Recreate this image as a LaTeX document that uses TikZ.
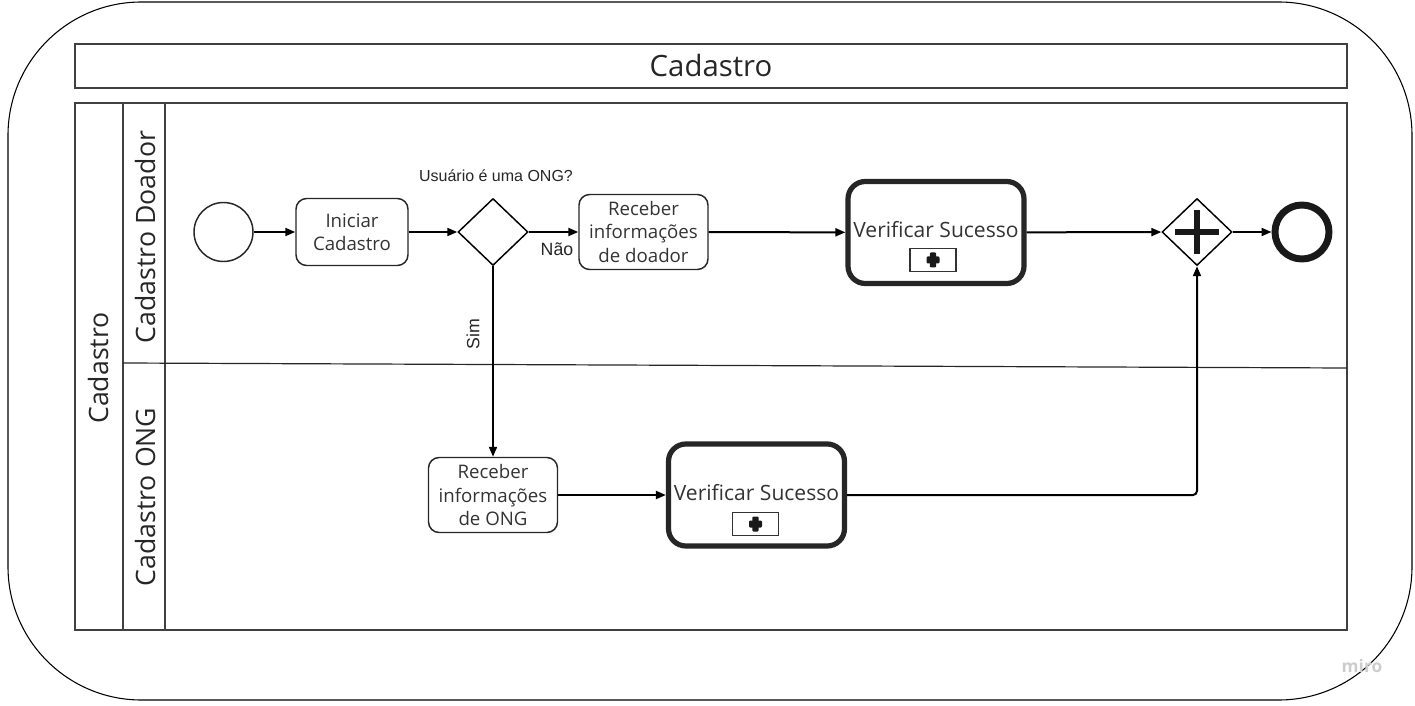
\documentclass[tikz,border=0pt]{standalone}
\usepackage{fontspec}
\setmainfont{Open Sans}
\newfontfamily\arialf{Liberation Sans}
\usetikzlibrary{shapes.geometric,arrows.meta}
\begin{document}
\begin{tikzpicture}[x=0.75pt,y=-0.75pt,
  frame/.style={draw=black!75, line width=1.1pt},
  lanelabel/.style={rotate=90, font=\fontsize{20}{24}\selectfont, text=black!85},
  task/.style={draw=black!85, rounded corners=8pt, line width=1.1pt, align=center, inner sep=0pt,
    minimum width=129*0.75pt, minimum height=75*0.75pt, font=\fontsize{14}{17.6}\selectfont, text=black!80},
  subproc/.style={draw=black!85, rounded corners=13pt, line width=3.9pt, inner sep=0pt,
    minimum width=176*0.75pt, minimum height=102*0.75pt},
  subtext/.style={font=\fontsize{15.8}{18}\selectfont, text=black!80, inner sep=0pt},
  marker/.style={draw=black!80, line width=0.9pt, inner sep=0pt, minimum width=46*0.75pt, minimum height=23*0.75pt},
  gate/.style={draw=black, diamond, line width=1.1pt, inner sep=0pt, minimum width=70*0.75pt, minimum height=67*0.75pt},
  flow/.style={line width=1.5pt, -{Triangle[length=7.5pt,width=6pt]}},
  cond/.style={font=\arialf\fontsize{12}{14}\selectfont, text=black!85},
  condbig/.style={font=\arialf\fontsize{13.3}{15}\selectfont, text=black!85},
]
\useasboundingbox (0,0) rectangle (1415,706);
% outer frame
\draw[line width=0.8pt, rounded corners=100pt] (8,2) rectangle (1412,700);
% title band
\node[frame, minimum width=1272*0.75pt, minimum height=44*0.75pt, inner sep=0pt,
  font=\fontsize{22}{26}\selectfont, text=black!85] (title) at (711,66) {Cadastro};
% pool
\draw[frame] (75,103) rectangle (1347,630);
\draw[frame] (123,103) -- (123,630);
\draw[frame] (165,103) -- (165,630);
\draw[line width=0.9pt, draw=black!85] (123,363) -- (1347,368);
\node[lanelabel] (pool) at (98,368) {Cadastro};
\node[lanelabel] (lane1) at (145,237) {Cadastro Doador};
\node[lanelabel] (lane2) at (145,497) {Cadastro ONG};
% lane 1
\node[circle, draw=black!85, line width=1.1pt, minimum size=59*0.75pt, inner sep=0pt] (start) at (223.5,232) {};
\node[task, minimum width=112*0.75pt, minimum height=67*0.75pt] (t1) at (352,232) {Iniciar\\Cadastro};
\node[gate] (g1) at (493,232) {};
\node[cond] (q) at (496,176) {Usuário é uma ONG?};
\node[task] (t2) at (643.5,232) {Receber\\informações\\de doador};
\node[subproc] (v1) at (936,232.5) {};
\node[subtext] (v1t) at (936,230) {Verificar Sucesso};
\node[marker] (m1) at (933,260) {};
\node[gate] (g2) at (1197,232) {};
\node[circle, draw=black!90, line width=5.2pt, minimum size=54*0.75pt, inner sep=0pt] (end) at (1302,232) {};
% lane 2
\node[task] (t3) at (493,495) {Receber\\informações\\de ONG};
\node[subproc] (v2) at (756.5,495) {};
\node[subtext] (v2t) at (756.5,493) {Verificar Sucesso};
\node[marker] (m2) at (755.5,524) {};
% markers' plus
\foreach \m in {m1,m2}{
  \fill[black!90, rounded corners=0.8pt] ([shift={(-3.2,-7.5)}]\m.center) rectangle ([shift={(3.2,7.5)}]\m.center);
  \fill[black!90, rounded corners=0.8pt] ([shift={(-6.5,-3.5)}]\m.center) rectangle ([shift={(6.5,3.5)}]\m.center);
}
% parallel gateway plus
\draw[line width=4.2pt, draw=black!90] ([shift={(-22,0)}]g2.center) -- ([shift={(22,0)}]g2.center);
\draw[line width=4.2pt, draw=black!90] ([shift={(0,-22)}]g2.center) -- ([shift={(0,22)}]g2.center);
% flows
\draw[flow] (start) -- (t1);
\draw[flow] (t1) -- (g1);
\draw[flow] (g1) -- (t2);
\node[condbig] (nao) at (557,249) {Não};
\draw[flow] (g1) -- (t3);
\node[condbig, rotate=90] (sim) at (473,334) {Sim};
\draw[flow] (t2) -- (v1);
\draw[flow] (v1) -- (g2);
\draw[flow] (g2) -- (end);
\draw[flow] (t3) -- (v2);
\draw[flow, rounded corners=3pt] (v2.east) -| (g2.south);
% watermark
\node[font=\fontsize{13}{15}\selectfont\bfseries, text=black!20] (miro) at (1362,666) {miro};
\end{tikzpicture}
\end{document}
